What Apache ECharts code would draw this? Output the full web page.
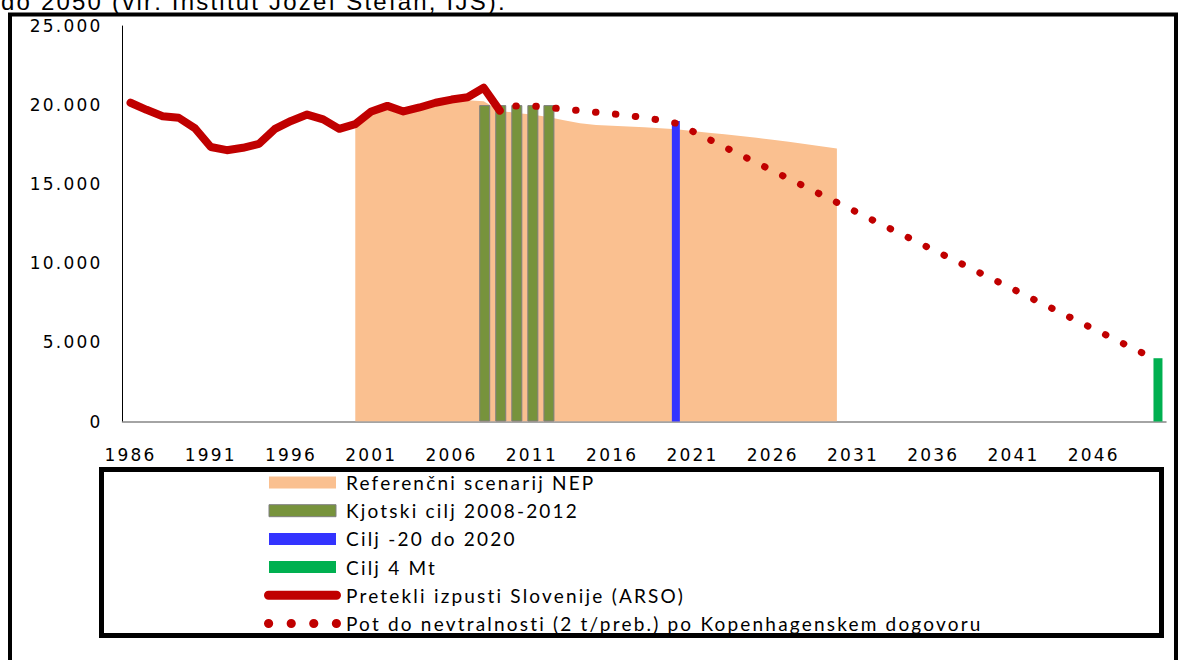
<!DOCTYPE html>
<html>
<head>
<meta charset="utf-8">
<script src="https://cdn.jsdelivr.net/npm/echarts/dist/echarts.min.js"></script>
<style>
html,body{margin:0;padding:0;background:#fff;}
#chart{width:1184px;height:660px;letter-spacing:2.2px;}
</style>
</head>
<body>
<div id="chart"></div>
<script>
// ---- data ----
const years = ['1986','1987','1988','1989','1990','1991','1992','1993','1994','1995',
  '1996','1997','1998','1999','2000','2001','2002','2003','2004','2005',
  '2006','2007','2008','2009','2010','2011','2012','2013','2014','2015',
  '2016','2017','2018','2019','2020','2021','2022','2023','2024','2025',
  '2026','2027','2028','2029','2030','2031','2032','2033','2034','2035',
  '2036','2037','2038','2039','2040','2041','2042','2043','2044','2045',
  '2046','2047','2048','2049','2050'];

const seriesNames = [
  'Referenčni scenarij NEP',
  'Kjotski cilj 2008-2012',
  'Cilj -20 do 2020',
  'Cilj 4 Mt',
  'Pretekli izpusti Slovenije (ARSO)',
  'Pot do nevtralnosti (2 t/preb.) po Kopenhagenskem dogovoru'
];

// Referenčni scenarij NEP, 2000-2030
const nepStart = '2000';
const nepValues = [18700, 19450, 19800, 19500, 19750, 20000, 20150, 20300, 20250, 19650,
  19500, 19400, 19250, 19050, 18850, 18750, 18700, 18650, 18600, 18530,
  18470, 18370, 18260, 18150, 18040, 17930, 17810, 17680, 17540, 17400, 17250];

// Kjotski cilj 2008-2012
const kyotoStart = '2008';
const kyotoValues = [20000, 20000, 20000, 20000, 20000];

// Cilj -20 do 2020
const target2020Start = '2020';
const target2020Values = [19000];

// Cilj 4 Mt
const target2050Start = '2050';
const target2050Values = [4000];

// Pretekli izpusti Slovenije (ARSO), 1986-2009
const pastStart = '1986';
const pastValues = [20150, 19700, 19300, 19200, 18550, 17350, 17150, 17300, 17550, 18500,
  19000, 19400, 19100, 18500, 18800, 19600, 19950, 19600, 19850, 20150,
  20350, 20500, 21100, 19650];

// Pot do nevtralnosti, 2010-2049
const pathStart = '2010';
const pathValues = [19950, 19950, 19850, 19750, 19650, 19550, 19450, 19350, 19200, 19050,
  18850, 18350, 17850, 17350, 16850, 16350, 15850, 15350, 14850, 14350,
  13850, 13350, 12850, 12350, 11850, 11350, 10850, 10350, 9850, 9350,
  8850, 8350, 7850, 7350, 6850, 6350, 5850, 5350, 4850, 4350];

const yTicks = { min: 0, max: 25000, interval: 5000 };
const titleText = 'do 2050 (vir: Institut Jožef Stefan, IJS).';

// ---- helpers ----
function pairs(start, values) {
  const i0 = years.indexOf(start);
  return values.map((v, i) => [years[i0 + i], v]);
}
function fmt(v) {
  if (v === 0) return '0';
  const s = String(v);
  return s.slice(0, s.length - 3) + '.' + s.slice(s.length - 3);
}

const C = {
  nep: '#FAC090', kyoto: '#77933C', kyotoBorder: '#7F7F7F',
  blue: '#3333FF', green: '#00B050', red: '#C00000'
};

const rectIcon = 'path://M0,0H67V12H0Z';
const lineIcon = 'path://M4.5,0H72.5A4.5,4.5,0,0,1,72.5,9H4.5A4.5,4.5,0,0,1,4.5,0Z';
const dotIcon = 'path://M0,4A4,4,0,1,0,8,4A4,4,0,1,0,0,4Z' +
  'M19.7,4A4,4,0,1,0,27.7,4A4,4,0,1,0,19.7,4Z' +
  'M39.3,4A4,4,0,1,0,47.3,4A4,4,0,1,0,39.3,4Z' +
  'M59,4A4,4,0,1,0,67,4A4,4,0,1,0,59,4Z';

const chart = echarts.init(document.getElementById('chart'), null, { renderer: 'svg' });

const option = {
  backgroundColor: '#fff',
  animation: false,
  grid: { left: 122.5, right: 18, top: 26, bottom: 238.5, containLabel: false },
  xAxis: {
    type: 'category',
    data: years,
    boundaryGap: true,
    axisLine: { show: true, lineStyle: { color: '#868686', width: 1.5 } },
    axisTick: { show: false },
    splitLine: { show: false },
    axisLabel: { interval: 4, margin: 25, fontFamily: 'DejaVu Sans', fontSize: 17, color: '#000' }
  },
  yAxis: {
    type: 'value',
    min: yTicks.min, max: yTicks.max, interval: yTicks.interval,
    axisLine: { show: true, lineStyle: { color: '#000', width: 1 } },
    axisTick: { show: false },
    splitLine: { show: false },
    axisLabel: { margin: 20, fontFamily: 'DejaVu Sans', fontSize: 17, color: '#000', formatter: fmt }
  },
  legend: {
    orient: 'vertical',
    left: 264, top: 473,
    padding: 0,
    height: 180,
    itemWidth: 77, itemHeight: 12, itemGap: 9.2,
    symbolKeepAspect: true,
    selectedMode: false,
    textStyle: { fontFamily: 'Lato', fontSize: 19, color: '#000', lineHeight: 18 },
    data: [
      { name: seriesNames[0], icon: rectIcon, itemStyle: { color: C.nep, borderWidth: 0 } },
      { name: seriesNames[1], icon: rectIcon, itemStyle: { color: C.kyoto, borderColor: C.kyotoBorder, borderWidth: 1 } },
      { name: seriesNames[2], icon: rectIcon, itemStyle: { color: C.blue, borderWidth: 0 } },
      { name: seriesNames[3], icon: rectIcon, itemStyle: { color: C.green, borderWidth: 0 } },
      { name: seriesNames[4], icon: lineIcon, itemStyle: { color: C.red, borderWidth: 0 } },
      { name: seriesNames[5], icon: dotIcon, itemStyle: { color: C.red, borderWidth: 0 } }
    ]
  },
  series: [
    {
      name: seriesNames[0], type: 'line', data: pairs(nepStart, nepValues),
      symbol: 'none', color: C.nep,
      lineStyle: { width: 0, color: C.nep },
      areaStyle: { color: C.nep, opacity: 1 },
      z: 1
    },
    {
      name: seriesNames[1], type: 'bar', data: pairs(kyotoStart, kyotoValues),
      barWidth: 11, barGap: '-100%', color: C.kyoto,
      itemStyle: { color: C.kyoto, borderColor: C.kyotoBorder, borderWidth: 1 },
      z: 2
    },
    {
      name: seriesNames[2], type: 'bar', data: pairs(target2020Start, target2020Values),
      barWidth: 8, barGap: '-100%', color: C.blue,
      itemStyle: { color: C.blue }, z: 2
    },
    {
      name: seriesNames[3], type: 'bar', data: pairs(target2050Start, target2050Values),
      barWidth: 9, barGap: '-100%', color: C.green,
      itemStyle: { color: C.green }, z: 2
    },
    {
      name: seriesNames[4], type: 'line', data: pairs(pastStart, pastValues),
      symbol: 'none', color: C.red,
      lineStyle: { width: 8, color: C.red, cap: 'round', join: 'round' },
      z: 3
    },
    {
      name: seriesNames[5], type: 'line', data: pairs(pathStart, pathValues),
      symbol: 'none', color: C.red,
      lineStyle: { width: 7, color: C.red, type: [0.5, 19.5], cap: 'round', join: 'round' },
      z: 3
    }
  ],
  graphic: [
    {
      type: 'rect', silent: true, z: 100,
      shape: { x: 10, y: 14.5, width: 1166, height: 700 },
      style: { fill: 'none', stroke: '#000', lineWidth: 4 }
    },
    {
      type: 'rect', silent: true, z: 100,
      shape: { x: 101.5, y: 469.5, width: 1060, height: 166 },
      style: { fill: 'none', stroke: '#000', lineWidth: 5 }
    },
    {
      type: 'text', silent: true, z: 100, x: 1, y: 13,
      style: { text: titleText, fontFamily: 'Liberation Sans', fontSize: 24, fill: '#000', verticalAlign: 'bottom' }
    }
  ]
};

chart.setOption(option);
</script>
</body>
</html>
